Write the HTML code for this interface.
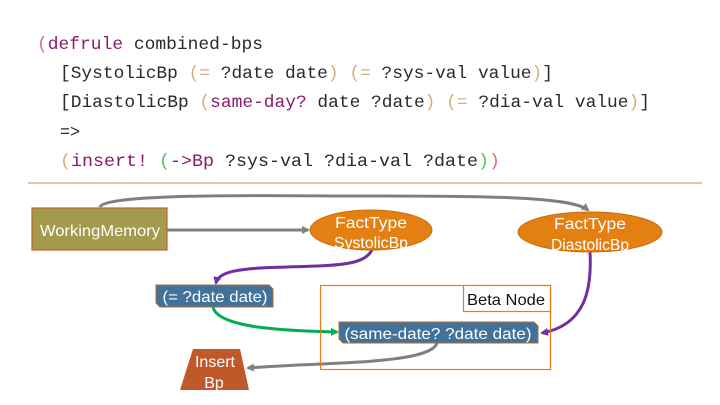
<!DOCTYPE html>
<html><head><meta charset="utf-8"><style>html,body{margin:0;padding:0;background:#fff;}svg{display:block}</style></head>
<body>
<svg width="720" height="405" viewBox="0 0 720 405" xmlns="http://www.w3.org/2000/svg">
<defs>
<marker id="ag" markerWidth="8" markerHeight="8" refX="6" refY="4" orient="auto" markerUnits="userSpaceOnUse"><path d="M0,0 L8,4 L0,8 z" fill="#7f7f7f"/></marker>
<marker id="ap" markerWidth="8" markerHeight="8" refX="6" refY="4" orient="auto" markerUnits="userSpaceOnUse"><path d="M0,0 L8,4 L0,8 z" fill="#7030a0"/></marker>
<marker id="agr" markerWidth="8" markerHeight="8" refX="6" refY="4" orient="auto" markerUnits="userSpaceOnUse"><path d="M0,0 L8,4 L0,8 z" fill="#00b050"/></marker>
</defs>
<g font-family="Liberation Mono, monospace" font-size="17.5" fill="#2a2a2a">
<text x="37" y="49" textLength="226" lengthAdjust="spacingAndGlyphs"><tspan fill="#d4727a">(</tspan><tspan fill="#8b1a6b">defrule</tspan> combined-bps</text>
<text x="60" y="78" textLength="493" lengthAdjust="spacingAndGlyphs">[SystolicBp <tspan fill="#d4b07a">(=</tspan> ?date date<tspan fill="#d4b07a">)</tspan> <tspan fill="#d4b07a">(=</tspan> ?sys-val value<tspan fill="#d4b07a">)</tspan>]</text>
<text x="60" y="107" textLength="590" lengthAdjust="spacingAndGlyphs">[DiastolicBp <tspan fill="#d4b07a">(</tspan><tspan fill="#8b1a6b">same-day?</tspan> date ?date<tspan fill="#d4b07a">)</tspan> <tspan fill="#d4b07a">(=</tspan> ?dia-val value<tspan fill="#d4b07a">)</tspan>]</text>
<text x="60" y="137" textLength="20" lengthAdjust="spacingAndGlyphs">=&gt;</text>
<text x="60" y="166" textLength="440" lengthAdjust="spacingAndGlyphs"><tspan fill="#d4b07a">(</tspan><tspan fill="#8b1a6b">insert!</tspan> <tspan fill="#5cbf5c">(</tspan><tspan fill="#8b1a6b">-&gt;Bp</tspan> ?sys-val ?dia-val ?date<tspan fill="#5cbf5c">)</tspan><tspan fill="#d4727a">)</tspan></text>
</g>
<line x1="28" y1="183" x2="702" y2="183" stroke="#e0a060" stroke-width="1.2"/>

<path d="M100,207 C105,192 300,196 350,196 C480,196 570,196 588,210" fill="none" stroke="#7f7f7f" stroke-width="3" marker-end="url(#ag)"/>
<line x1="167" y1="230" x2="308" y2="230" stroke="#7f7f7f" stroke-width="3" marker-end="url(#ag)"/>
<path d="M372,250 C362,268 330,265 260,268 C230,270 218,274 216,283" fill="none" stroke="#7030a0" stroke-width="3" marker-end="url(#ap)"/>
<path d="M590,252 C592,290 585,325 542,333" fill="none" stroke="#7030a0" stroke-width="3" marker-end="url(#ap)"/>
<path d="M213,307 C218,330 300,331 337,332" fill="none" stroke="#00b050" stroke-width="3" marker-end="url(#agr)"/>
<path d="M437,343 C430,365 320,362 248,368" fill="none" stroke="#7f7f7f" stroke-width="3" marker-end="url(#ag)"/>

<g font-family="Liberation Sans, sans-serif" fill="#fff" text-anchor="middle">
<rect x="32" y="208" width="135" height="42" fill="#a39a4d" stroke="#b8692a" stroke-width="1.2"/>
<text x="100" y="236" font-size="16" textLength="120" lengthAdjust="spacingAndGlyphs">WorkingMemory</text>

<ellipse cx="371" cy="230" rx="61" ry="20" fill="#e48012" stroke="#c66d10"/>
<text font-size="15.5"><tspan x="371" y="228" textLength="72" lengthAdjust="spacingAndGlyphs">FactType</tspan><tspan x="371" y="248" textLength="74" lengthAdjust="spacingAndGlyphs">SystolicBp</tspan></text>

<ellipse cx="590" cy="232" rx="72" ry="20" fill="#e48012" stroke="#c66d10"/>
<text font-size="15.5"><tspan x="590" y="229" textLength="72" lengthAdjust="spacingAndGlyphs">FactType</tspan><tspan x="590" y="250" textLength="78" lengthAdjust="spacingAndGlyphs">DiastolicBp</tspan></text>

<polygon points="156,285 269,285 273,289 273,307 160,307 156,303" fill="#41729b" stroke="#b8692a" stroke-width="1"/>
<text x="215" y="302" font-size="16" textLength="105" lengthAdjust="spacingAndGlyphs">(= ?date date)</text>

<rect x="320.5" y="285.5" width="230" height="84" fill="none" stroke="#e48012" stroke-width="1.2"/>
<rect x="463.5" y="285.5" width="87" height="26" fill="#fff" stroke="#e48012" stroke-width="1.2"/>
<text x="506" y="305" font-size="16" fill="#111" textLength="78" lengthAdjust="spacingAndGlyphs">Beta Node</text>

<polygon points="339,322 534,322 538,326 538,343 343,343 339,339" fill="#41729b" stroke="#b8692a" stroke-width="1"/>
<text x="438" y="339" font-size="16" textLength="187" lengthAdjust="spacingAndGlyphs">(same-date? ?date date)</text>

<polygon points="193,349 240,349 249,390 180,390" fill="#c0582a"/>
<text font-size="16"><tspan x="215" y="367">Insert</tspan><tspan x="214" y="388">Bp</tspan></text>
</g>
</svg>
</body></html>
